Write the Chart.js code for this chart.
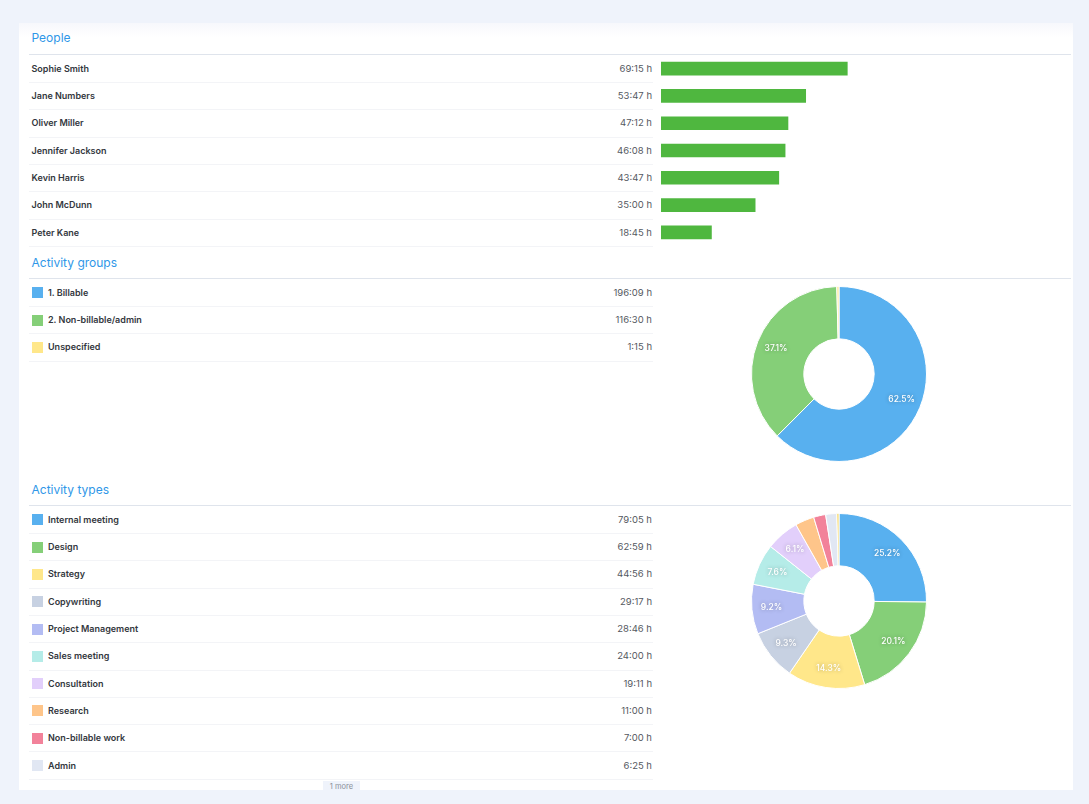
<!DOCTYPE html>
<html>
<head>
<meta charset="utf-8">
<title>Report</title>
<script src="https://cdn.jsdelivr.net/npm/chart.js@4"></script>
<style>
    html, body { margin: 0; padding: 0; background: #eff3fb; }
    body { width: 1089px; height: 804px; position: relative; overflow: hidden; font-family: Inter, "Noto Sans", sans-serif; }
    .card { position: absolute; left: 19px; top: 23px; width: 1054px; height: 767px; background: #fff; }
    .fade { position: absolute; left: 19px; top: 23px; width: 1054px; height: 14px; background: linear-gradient(#f7f8fc, #fff); }
    .title { position: absolute; left: 31.5px; font-size: 12px; line-height: 16px; color: #2f97e8; }
    .head-line { position: absolute; left: 29px; width: 1042px; height: 1px; background: #dfe4ec; }
    .row-line { position: absolute; left: 29px; width: 624px; height: 1px; background: #f3f4f7; }
    .name { position: absolute; font-size: 9px; line-height: 12px; font-weight: 600; color: #33373d; white-space: nowrap; }
    .time { position: absolute; right: 437px; font-size: 9.5px; line-height: 12px; color: #55595f; white-space: nowrap; }
    .swatch { position: absolute; left: 32px; width: 11px; height: 11px; }
    .more { position: absolute; left: 323px; top: 781px; width: 37px; height: 9px; background: #eff3fb; color: #8a8f98; font-size: 7.5px; line-height: 11px; text-align: center; overflow: hidden; }
    canvas { position: absolute; }
</style>
</head>
<body>
<div class="card"></div>
<div class="fade"></div>
<div id="rows"></div>
<div class="more">1 more</div>
<canvas id="peopleChart" width="410" height="191" style="left:661px;top:55px;width:410px;height:191px"></canvas>
<canvas id="groupChart" width="200" height="200" style="left:739px;top:274px;width:200px;height:200px"></canvas>
<canvas id="typeChart" width="200" height="200" style="left:739px;top:501px;width:200px;height:200px"></canvas>
<script>
const peopleNames = ['Sophie Smith', 'Jane Numbers', 'Oliver Miller', 'Jennifer Jackson', 'Kevin Harris', 'John McDunn', 'Peter Kane'];
const peopleTimes = ['69:15', '53:47', '47:12', '46:08', '43:47', '35:00', '18:45'];

const groupNames = ['1. Billable', '2. Non-billable/admin', 'Unspecified'];
const groupTimes = ['196:09', '116:30', '1:15'];
const groupColors = ['#58b0ef', '#85cf78', '#ffe78a'];

const typeNames = ['Internal meeting', 'Design', 'Strategy', 'Copywriting', 'Project Management', 'Sales meeting', 'Consultation', 'Research', 'Non-billable work', 'Admin', 'Unspecified'];
const typeTimes = ['79:05', '62:59', '44:56', '29:17', '28:46', '24:00', '19:11', '11:00', '7:00', '6:25', '1:15'];
const typeColors = ['#58b0ef', '#85cf78', '#ffe78a', '#c7d1e2', '#b3bcf3', '#b5ece8', '#e2cffb', '#fec58a', '#f2829a', '#e1e7f3', '#f6d55c'];

const peopleAxisMax = 152.4;

function toHours(time) {
    const parts = time.split(':');
    return Number(parts[0]) + Number(parts[1]) / 60;
}

function addEl(cls, top, text, left) {
    const el = document.createElement('div');
    el.className = cls;
    el.style.top = Math.round(top) + 'px';
    if (left !== undefined) el.style.left = left + 'px';
    if (text) el.textContent = text;
    document.getElementById('rows').appendChild(el);
    return el;
}

function renderSection(title, titleTop, lineTop, names, times, colors, shown) {
    addEl('title', titleTop, title);
    addEl('head-line', lineTop);
    for (let i = 0; i < shown; i++) {
        const center = lineTop + 14.8 + i * 27.3;
        addEl('name', center - 6, names[i], colors ? 48 : 31.5);
        addEl('time', center - 6, times[i] + ' h');
        addEl('row-line', center + 13.2);
        if (colors) {
            const swatch = addEl('swatch', center - 5.5);
            swatch.style.background = colors[i];
        }
    }
}

renderSection('People', 30, 54, peopleNames, peopleTimes, null, peopleNames.length);
renderSection('Activity groups', 255, 278, groupNames, groupTimes, groupColors, groupNames.length);
renderSection('Activity types', 482, 505, typeNames, typeTimes, typeColors, 10);

const percentLabels = {
    id: 'percentLabels',
    afterDatasetsDraw(chart) {
        const ctx = chart.ctx;
        const values = chart.data.datasets[0].data;
        const total = values.reduce((a, b) => a + b, 0);
        chart.getDatasetMeta(0).data.forEach((arc, i) => {
            const share = values[i] / total * 100;
            if (share < 5) return;
            const angle = (arc.startAngle + arc.endAngle) / 2;
            const r = arc.outerRadius * 0.775;
            ctx.save();
            ctx.font = '500 8.5px Inter';
            ctx.fillStyle = '#fff';
            ctx.textAlign = 'center';
            ctx.textBaseline = 'middle';
            ctx.shadowColor = 'rgba(0,0,0,0.3)';
            ctx.shadowBlur = 4;
            ctx.fillText(share.toFixed(1) + '%', arc.x + Math.cos(angle) * r, arc.y + Math.sin(angle) * r);
            ctx.restore();
        });
    }
};

function renderDoughnut(id, labels, times, colors) {
    new Chart(document.getElementById(id).getContext('2d'), {
        type: 'doughnut',
        data: {
            labels: labels,
            datasets: [{
                data: times.map(toHours),
                backgroundColor: colors,
                borderColor: '#fff',
                borderWidth: 1,
                radius: 87.5,
                cutout: 40
            }]
        },
        options: {
            responsive: false,
            animation: false,
            plugins: { legend: { display: false }, tooltip: { enabled: false } }
        },
        plugins: [percentLabels]
    });
}

new Chart(document.getElementById('peopleChart').getContext('2d'), {
    type: 'bar',
    data: {
        labels: peopleNames,
        datasets: [{
            data: peopleTimes.map(toHours),
            backgroundColor: '#4fb73f',
            barThickness: 13
        }]
    },
    options: {
        indexAxis: 'y',
        responsive: false,
        animation: false,
        scales: {
            x: { display: false, min: 0, max: peopleAxisMax },
            y: { display: false }
        },
        plugins: { legend: { display: false }, tooltip: { enabled: false } }
    }
});

renderDoughnut('groupChart', groupNames, groupTimes, groupColors);
renderDoughnut('typeChart', typeNames, typeTimes, typeColors);
</script>
</body>
</html>
